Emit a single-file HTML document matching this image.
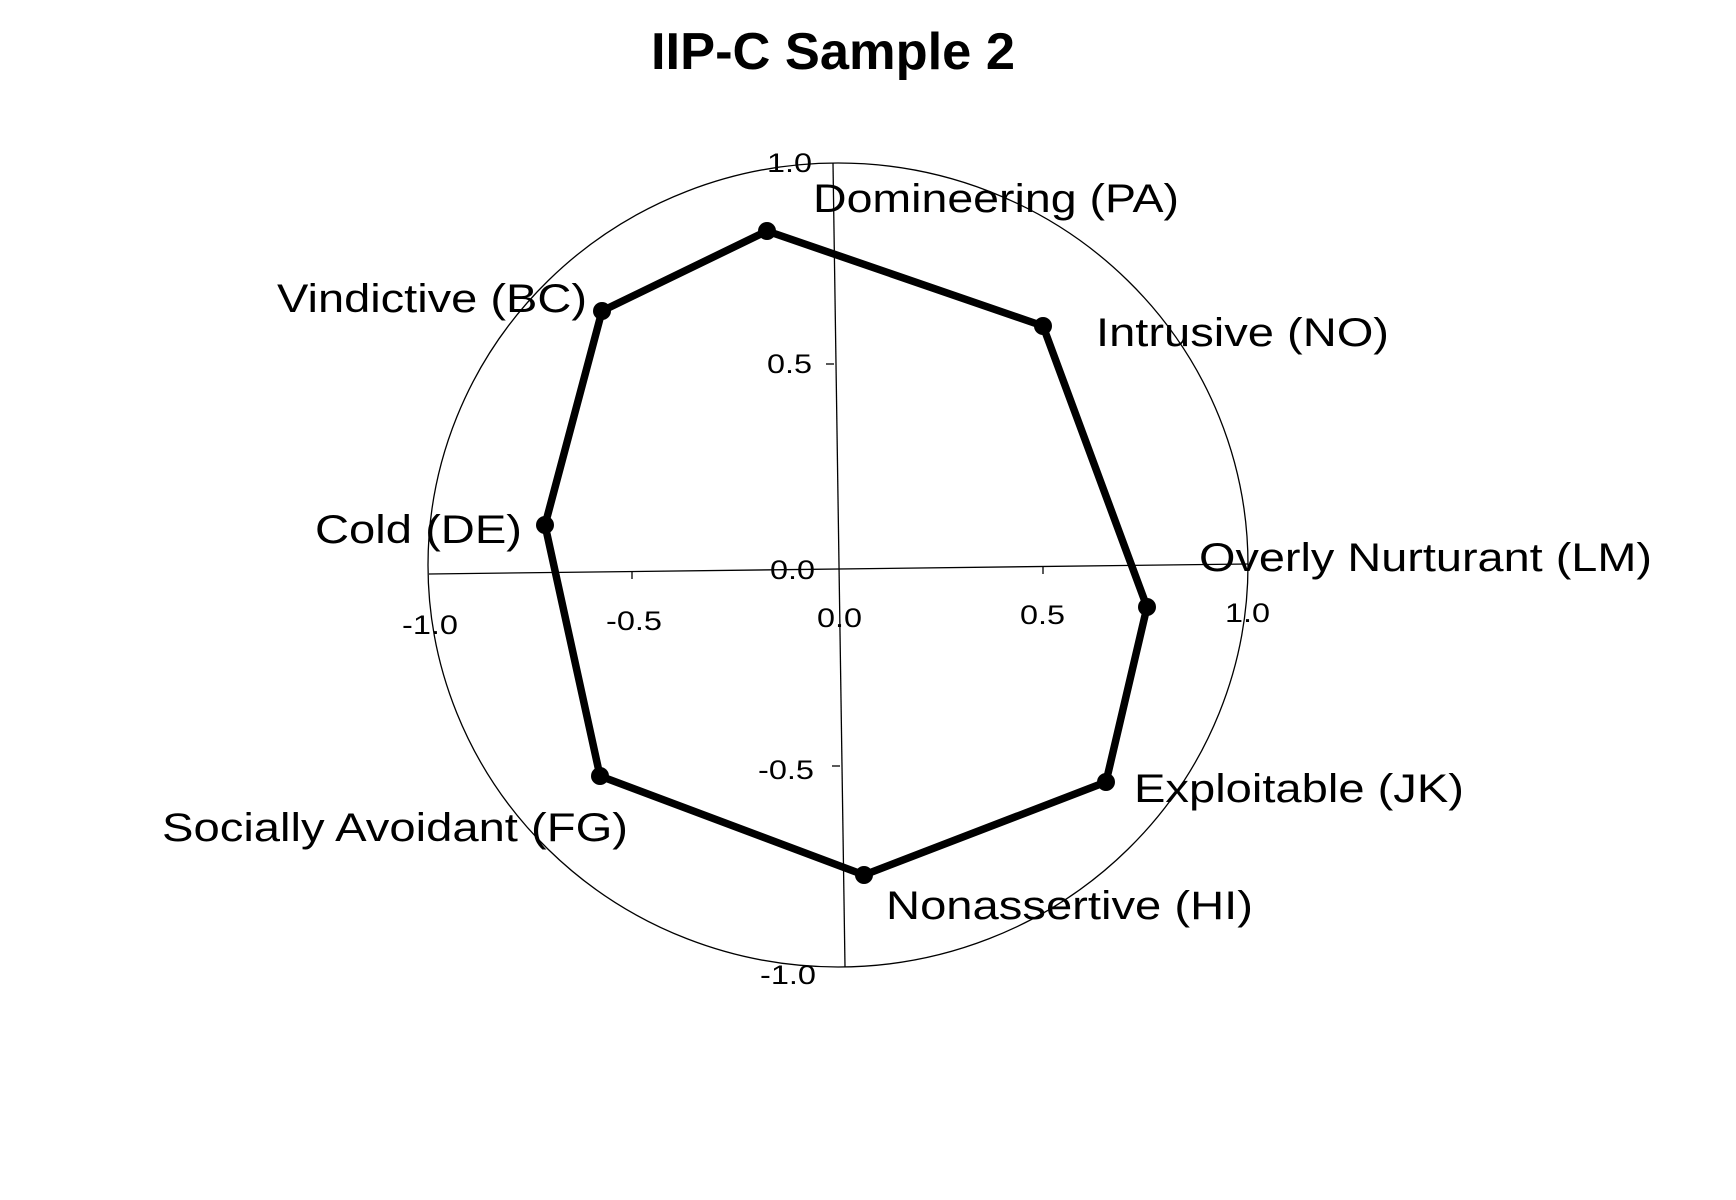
<!DOCTYPE html>
<html><head><meta charset="utf-8"><style>
html,body{margin:0;padding:0;background:#fff;}
svg{display:block;}
text{font-family:"Liberation Sans",Arial,sans-serif;fill:#000;}
</style></head><body>
<svg width="1736" height="1200" viewBox="0 0 1736 1200" xmlns="http://www.w3.org/2000/svg">
<text x="651" y="69" font-size="52" font-weight="bold" textLength="364" lengthAdjust="spacingAndGlyphs">IIP-C Sample 2</text>
<ellipse cx="838" cy="565" rx="410" ry="402" fill="none" stroke="#000" stroke-width="1.3"/>
<line x1="429" y1="574" x2="1248" y2="564" stroke="#000" stroke-width="1.3"/>
<line x1="833" y1="163" x2="845" y2="967" stroke="#000" stroke-width="1.3"/>
<line x1="826" y1="364" x2="834" y2="364" stroke="#000" stroke-width="1.3"/>
<line x1="832" y1="766" x2="840" y2="766" stroke="#000" stroke-width="1.3"/>
<line x1="632" y1="571" x2="632" y2="579" stroke="#000" stroke-width="1.3"/>
<line x1="1043" y1="566" x2="1043" y2="574" stroke="#000" stroke-width="1.3"/>
<polygon points="767,231 1043,326 1147,607 1106,782 864,875 600,776 545,525 602,311" fill="none" stroke="#000" stroke-width="7.5" stroke-linejoin="round"/>
<g fill="#000">
<circle cx="767" cy="231" r="9"/><circle cx="1043" cy="326" r="9"/><circle cx="1147" cy="607" r="9"/><circle cx="1106" cy="782" r="9"/><circle cx="864" cy="875" r="9"/><circle cx="600" cy="776" r="9"/><circle cx="545" cy="525" r="9"/><circle cx="602" cy="311" r="9"/>
</g>
<g font-size="27">
<text x="767" y="172" textLength="45" lengthAdjust="spacingAndGlyphs">1.0</text>
<text x="767" y="373" textLength="45" lengthAdjust="spacingAndGlyphs">0.5</text>
<text x="770" y="579" textLength="45" lengthAdjust="spacingAndGlyphs">0.0</text>
<text x="758" y="779" textLength="56" lengthAdjust="spacingAndGlyphs">-0.5</text>
<text x="760" y="984" textLength="56" lengthAdjust="spacingAndGlyphs">-1.0</text>
<text x="402" y="634" textLength="56" lengthAdjust="spacingAndGlyphs">-1.0</text>
<text x="606" y="630" textLength="56" lengthAdjust="spacingAndGlyphs">-0.5</text>
<text x="817" y="627" textLength="45" lengthAdjust="spacingAndGlyphs">0.0</text>
<text x="1020" y="624" textLength="45" lengthAdjust="spacingAndGlyphs">0.5</text>
<text x="1225" y="622" textLength="45" lengthAdjust="spacingAndGlyphs">1.0</text>
</g>
<g font-size="40">
<text x="813" y="212" textLength="366" lengthAdjust="spacingAndGlyphs">Domineering (PA)</text>
<text x="277" y="312" textLength="310" lengthAdjust="spacingAndGlyphs">Vindictive (BC)</text>
<text x="1096" y="346" textLength="293" lengthAdjust="spacingAndGlyphs">Intrusive (NO)</text>
<text x="315" y="543" textLength="207" lengthAdjust="spacingAndGlyphs">Cold (DE)</text>
<text x="1199" y="571" textLength="453" lengthAdjust="spacingAndGlyphs">Overly Nurturant (LM)</text>
<text x="1134" y="802" textLength="330" lengthAdjust="spacingAndGlyphs">Exploitable (JK)</text>
<text x="162" y="841" textLength="466" lengthAdjust="spacingAndGlyphs">Socially Avoidant (FG)</text>
<text x="886" y="919" textLength="367" lengthAdjust="spacingAndGlyphs">Nonassertive (HI)</text>
</g>
</svg>
</body></html>
